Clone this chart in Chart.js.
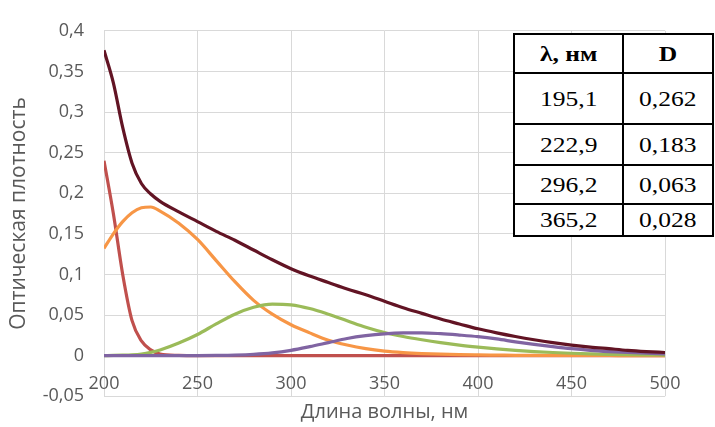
<!DOCTYPE html>
<html>
<head>
<meta charset="utf-8">
<script src="https://cdn.jsdelivr.net/npm/chart.js@4/dist/chart.umd.min.js"></script>
<style>
  html, body { margin: 0; padding: 0; background: #fff; }
  #wrap { position: relative; width: 715px; height: 427px; overflow: hidden; }
  #peaks { position: absolute; left: 0; top: 0; width: 715px; height: 427px; pointer-events: none;
    font-family: "Liberation Serif", "Times New Roman", serif; font-size: 22px; color: #000; }
  #peaks .bg { position: absolute; background: #fff; }
  #peaks .ln { position: absolute; background: #000; }
  #peaks .cell { position: absolute; display: flex; align-items: center; justify-content: center; }
  #peaks .cell span { display: inline-block; transform: scaleX(1.16); }
  #peaks .head { font-weight: bold; }
</style>
</head>
<body>
<div id="wrap">
  <canvas id="chart" width="715" height="427"></canvas>
  <div id="peaks"></div>
</div>
<script>
// wavelength grid, nm
const wavelengths = [200, 205, 210, 215, 220, 225, 230, 240, 250, 260, 270, 280, 290, 300, 310, 320, 330,
  340, 350, 360, 370, 380, 390, 400, 410, 420, 430, 440, 450, 460, 470, 480, 490, 500];

// component bands (optical density)
const band1 = [0.240, 0.175, 0.100, 0.043, 0.018, 0.007, 0.002, 0.0003, 0, 0, 0, 0, 0, 0, 0, 0, 0,
  0, 0, 0, 0, 0, 0, 0, 0, 0, 0, 0, 0, 0, 0, 0, 0, 0];
const band2 = [0.132, 0.150, 0.165, 0.176, 0.182, 0.183, 0.178, 0.163, 0.143, 0.117, 0.091, 0.068, 0.051, 0.038, 0.028, 0.019, 0.013,
  0.0085, 0.0055, 0.0037, 0.0025, 0.0017, 0.0011, 0.0008, 0.0006, 0.0004, 0.0003, 0.0002, 0.0002, 0.0001, 0.0001, 0, 0, 0];
const band3 = [0, 0.0002, 0.0005, 0.001, 0.002, 0.004, 0.007, 0.0155, 0.026, 0.039, 0.051, 0.0595, 0.0635, 0.0625, 0.058, 0.051, 0.043,
  0.035, 0.0285, 0.0235, 0.0195, 0.016, 0.013, 0.0105, 0.0083, 0.0065, 0.005, 0.0038, 0.0029, 0.0022, 0.0016, 0.0012, 0.0009, 0.0007];
const band4 = [0, 0, 0, 0, 0, 0, 0, 0, 0, 0.0002, 0.0006, 0.0015, 0.0033, 0.0065, 0.011, 0.016, 0.021,
  0.0245, 0.0268, 0.0279, 0.028, 0.027, 0.0253, 0.0233, 0.0205, 0.017, 0.0138, 0.011, 0.0085, 0.0065, 0.005, 0.0038, 0.0029, 0.0022];
// total spectrum
const total = [0.376, 0.336, 0.281, 0.237, 0.212, 0.199, 0.190, 0.177, 0.165, 0.153, 0.142, 0.130, 0.118, 0.107, 0.098, 0.090, 0.082,
  0.075, 0.067, 0.059, 0.052, 0.045, 0.039, 0.033, 0.028, 0.0235, 0.0195, 0.016, 0.013, 0.0105, 0.0085, 0.0065, 0.005, 0.0038];

// peak table
const peakNm = ["195,1", "222,9", "296,2", "365,2"];
const peakD = ["0,262", "0,183", "0,063", "0,028"];
const headNm = "λ, нм";
const headD = "D";

const xTitle = "Длина волны, нм";
const yTitle = "Оптическая плотность";

// table overlay: line positions
const rowLines = [34, 73, 124, 165, 204, 236];
const colLines = [514, 623, 713];
const box = document.getElementById("peaks");
let html = `<div class="bg" style="left:${colLines[0]}px;top:${rowLines[0]}px;width:${colLines[2] - colLines[0]}px;height:${rowLines[5] - rowLines[0]}px"></div>`;
rowLines.forEach(y => {
    html += `<div class="ln" style="left:${colLines[0] - 1}px;top:${y - 1}px;width:${colLines[2] - colLines[0] + 2}px;height:2px"></div>`;
});
colLines.forEach(x => {
    html += `<div class="ln" style="left:${x - 1}px;top:${rowLines[0] - 1}px;width:2px;height:${rowLines[5] - rowLines[0] + 2}px"></div>`;
});
const rows = [[headNm, headD]].concat(peakNm.map((nm, i) => [nm, peakD[i]]));
rows.forEach((r, i) => {
    r.forEach((txt, j) => {
        html += `<div class="cell${i === 0 ? " head" : ""}" style="left:${colLines[j]}px;top:${rowLines[i]}px;width:${colLines[j + 1] - colLines[j]}px;height:${rowLines[i + 1] - rowLines[i]}px"><span>${txt}</span></div>`;
    });
});
box.innerHTML = html;

const pts = arr => wavelengths.map((x, i) => ({ x: x, y: arr[i] }));

const line = (data, color, order) => ({
    data: pts(data),
    borderColor: color,
    borderWidth: 3.2,
    pointRadius: 0,
    fill: false,
    cubicInterpolationMode: "monotone",
    order: order
});

const gray = "#595959";

// axis titles + white background
const extras = {
    id: "extras",
    beforeDraw(chart) {
        const c = chart.ctx;
        c.save();
        c.fillStyle = "#fff";
        c.fillRect(0, 0, chart.width, chart.height);
        c.restore();
    },
    afterDraw(chart) {
        const c = chart.ctx;
        const a = chart.chartArea;
        c.save();
        c.fillStyle = gray;
        c.textAlign = "center";
        c.textBaseline = "middle";
        c.font = "20px 'Open Sans'";
        c.fillText(xTitle, (a.left + a.right) / 2, 412);
        c.font = "21px 'Open Sans'";
        c.translate(19, (a.top + a.bottom) / 2);
        c.rotate(-Math.PI / 2);
        c.fillText(yTitle, 0, 0);
        c.restore();
    }
};

new Chart(document.getElementById("chart"), {
    type: "line",
    data: {
        datasets: [
            line(band1, "#c0504d", 4),
            line(band2, "#f79646", 3),
            line(band3, "#9bbb59", 2),
            line(band4, "#8064a2", 1),
            line(total, "#621424", 0)
        ]
    },
    options: {
        responsive: false,
        animation: false,
        layout: { padding: { left: 0, right: 50, top: 22, bottom: 28 } },
        plugins: {
            legend: { display: false },
            tooltip: { enabled: false }
        },
        scales: {
            x: {
                type: "linear",
                min: 200,
                max: 500,
                position: { y: 0 },
                ticks: {
                    stepSize: 50,
                    color: gray,
                    font: { family: "'Open Sans'", size: 18 },
                    padding: 17
                },
                grid: { color: "#d9d9d9", drawTicks: false },
                border: { display: false }
            },
            y: {
                min: -0.05,
                max: 0.4,
                ticks: {
                    stepSize: 0.05,
                    color: gray,
                    font: { family: "'Open Sans'", size: 18 },
                    padding: 20,
                    callback: v => String(Math.round(v * 100) / 100).replace(".", ",")
                },
                grid: { color: "#d9d9d9", drawTicks: false },
                border: { display: false },
                afterFit: s => { s.width = 104; }
            }
        }
    },
    plugins: [extras]
});
</script>
</body>
</html>
